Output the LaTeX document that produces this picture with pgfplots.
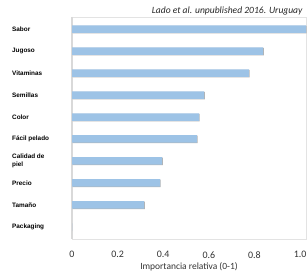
\documentclass[border=0pt]{standalone}
\usepackage{fontspec}
\setmainfont{Carlito}
\newfontfamily\arial{Liberation Sans}
\usepackage{pgfplots}
\pgfplotsset{compat=1.18}
\definecolor{barblue}{HTML}{9DC3E6}
\definecolor{axgray}{HTML}{D9D9D9}
\definecolor{framegray}{HTML}{E3E3E3}
\begin{document}
\begin{tikzpicture}
\begin{axis}[
  scale only axis,
  width=234bp, height=222bp,
  xbar, bar width=7.5bp,
  xmin=0, xmax=1.026,
  ymin=-0.55, ymax=9.55,
  y dir=reverse,
  axis line style={draw=framegray, line width=0.8bp},
  ytick={0,...,9},
  yticklabels={Sabor,Jugoso,Vitaminas,Semillas,Color,F\'acil pelado,{Calidad de\\piel},Precio,Tama\~no,Packaging},
  yticklabel style={anchor=west, align=left, inner sep=0pt, xshift=-60bp, font=\arial\bfseries\fontsize{6.4}{7.8}\selectfont, text=black},
  xtick={0,0.2,0.4,0.6,0.8,1.0},
  xticklabels={0,0.2,0.4,0.6,0.8,1.0},
  xticklabel style={font=\fontsize{10}{12}\selectfont, text=black!80, yshift=-9bp},
  xlabel={Importancia relativa (0-1)},
  xlabel style={font=\fontsize{9.5}{11}\selectfont, text=black!80, yshift=3bp},
  major tick length=0pt,
  clip=false,
]
\draw[axgray, line width=2bp] (axis cs:0,-0.55) -- (axis cs:0,9.55);
\addplot[fill=barblue, draw=none,
  preaction={fill=black!30, transform canvas={xshift=0.7bp, yshift=-0.5bp}}]
  coordinates {(1.026,0) (0.838,1) (0.776,2) (0.579,3) (0.557,4) (0.548,5) (0.395,6) (0.386,7) (0.316,8) (0,9)};
\node[font=\itshape\fontsize{9.6}{11}\selectfont, text=black!85, anchor=base east] at (axis cs:1.026,-0.55) [yshift=3bp, xshift=0bp] {Lado et al. unpublished 2016. Uruguay};
\end{axis}
\pgfresetboundingbox
\path ([xshift=-72bp,yshift=-35bp]current axis.south west) rectangle ([xshift=2bp,yshift=17bp]current axis.north east);
\end{tikzpicture}
\end{document}
